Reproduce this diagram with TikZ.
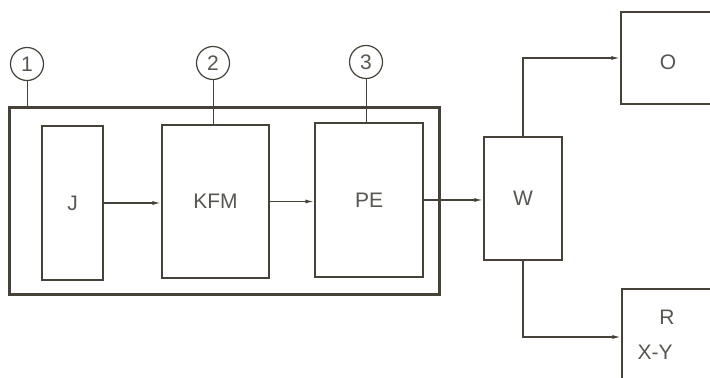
\documentclass[tikz,border=0pt]{standalone}
\usepackage{fontspec}
\setmainfont{Liberation Sans}
\usetikzlibrary{arrows.meta}

\begin{document}
\begin{tikzpicture}[x=0.5pt,y=-0.5pt,
  font=\fontsize{10.5}{12}\selectfont,
  block/.style={draw=inkline, line width=0.7pt, inner sep=0pt, text=letter},
  tag/.style={circle, draw=inkline, line width=0.6pt, minimum size=16.5pt, inner sep=0pt, text=letter},
  flow/.style={draw=inkline, line width=0.7pt, -{Latex[length=4.5pt,width=2pt]}},
  leader/.style={draw=inkline, line width=0.5pt}]
% Define colors
\definecolor{inkline}{RGB}{70,66,58}
\definecolor{letter}{RGB}{88,86,80}

\clip (0,0) rectangle (710,378);

% Enclosing unit
\node[block, line width=1.5pt, minimum width=215pt, minimum height=93.5pt] (unit) at (224,201.5) {};

% Blocks inside the unit
\node[block, minimum width=30.5pt, minimum height=77pt] (J) at (72.5,203) {J};
\node[block, minimum width=53.5pt, minimum height=76.5pt] (KFM) at (215.5,201.5) {KFM};
\node[block, minimum width=54pt, minimum height=77pt] (PE) at (369,200) {PE};

% Switch and outputs
\node[block, minimum width=39pt, minimum height=61.5pt] (W) at (523,198.5) {W};
\node[block, minimum width=70pt, minimum height=46pt] (O) at (691,58) {};
\node[text=letter] (Olab) at (668,62) {O};
\node[block, minimum width=70pt, minimum height=48pt] (R) at (692,337) {};
\node[text=letter] (Rlab) at (667,317) {R};
\node[text=letter] (XYlab) at (655,352) {X-Y};

% Position numbers
\node[tag] (c1) at (27,64) {1};
\node[tag] (c2) at (213,63) {2};
\node[tag] (c3) at (366,62) {3};
\draw[leader] (c1.south) -- (c1.south |- unit.north);
\draw[leader] (c2.south) -- (c2.south |- KFM.north);
\draw[leader] (c3.south) -- (c3.south |- PE.north);

% Signal flow
\draw[flow] (J.east) -- (J.east -| KFM.west);
\draw[flow] (KFM.east) -- (KFM.east -| PE.west);
\draw[flow] (PE.east) -- (PE.east -| W.west);
\draw[flow] (W.north) |- (O.west);
\draw[flow] (W.south) |- (R.west);

\end{tikzpicture}
\end{document}
